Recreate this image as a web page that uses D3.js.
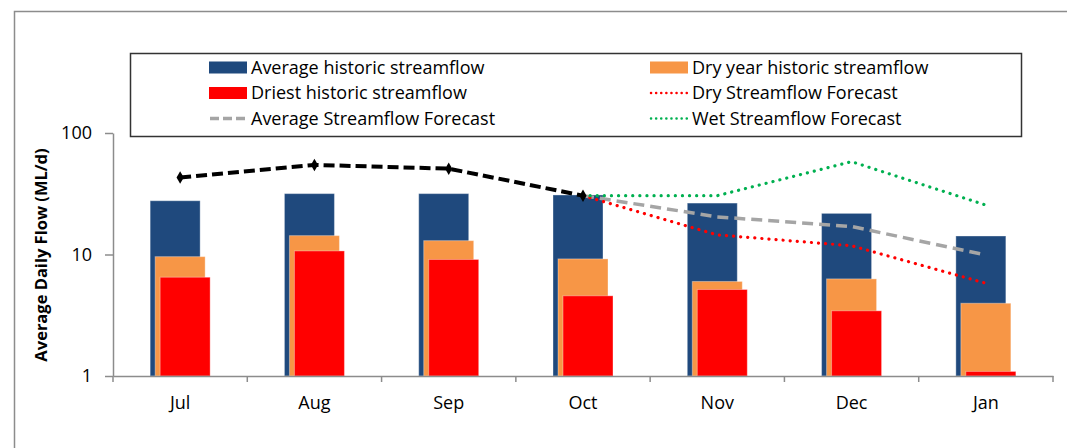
<!DOCTYPE html>
<html lang="en">
<head>
<meta charset="utf-8">
<title>Average Daily Flow</title>
<script src="https://cdn.jsdelivr.net/npm/d3@7"></script>
<style>
  body { margin: 0; background: #fff; }
  svg text { font-family: "Open Sans", sans-serif; fill: #000; }
</style>
</head>
<body>
<script>
// months on the x axis
var months = ["Jul", "Aug", "Sep", "Oct", "Nov", "Dec", "Jan"];

// historic bars (ML/d)
var avgHistoric = [27.7, 31.7, 31.7, 30.9, 26.5, 21.8, 14.2];
var dryHistoric = [9.6, 14.3, 13.0, 9.2, 6.0, 6.3, 3.97];
var driestHistoric = [6.5, 10.7, 9.1, 4.57, 5.15, 3.44, 1.09];

// recorded flow to date (black dashed line)
var recorded = [43.1, 54.6, 50.9, 30.5, null, null, null];

// forecasts, starting at Oct
var dryForecast = [null, null, null, 30.5, 14.5, 11.8, 5.8];
var avgForecast = [null, null, null, 30.5, 20.4, 17.0, 9.9];
var wetForecast = [null, null, null, 30.5, 30.5, 58.1, 25.5];

var yTicks = [1, 10, 100];

var W = 1073, H = 448;
var plotL = 113, plotR = 1053, plotT = 133, plotB = 376;
var fontF = "'Open Sans', sans-serif";

var svg = d3.select("body").append("svg")
    .attr("width", W)
    .attr("height", H);

// outer chart frame (cut off at bottom and right)
svg.append("path")
    .attr("d", "M14.5,448 V11.5 H1067")
    .attr("fill", "none")
    .attr("stroke", "#8c8c8c")
    .attr("stroke-width", 1.5);

var x = d3.scaleBand().domain(months).range([plotL, plotR]);
var y = d3.scaleLog().domain([1, 100]).range([plotB, plotT]);

var barW = 50;
var bars = [
  { data: avgHistoric, color: "#1F497D", off: -5 },
  { data: dryHistoric, color: "#F79646", off: 0 },
  { data: driestHistoric, color: "#FF0000", off: 5 }
];

bars.forEach(function(b) {
  svg.append("g").selectAll("rect")
      .data(b.data)
      .enter()
      .append("rect")
      .attr("x", function(d, i) { return x(months[i]) + x.bandwidth() / 2 + b.off - barW / 2; })
      .attr("width", barW)
      .attr("y", function(d) { return y(d); })
      .attr("height", function(d) { return y(1) - y(d); })
      .attr("fill", b.color)
      .attr("stroke", "#ffffff")
      .attr("stroke-opacity", 0.35)
      .attr("stroke-width", 1);
});

// axes
var yAxis = svg.append("g")
    .attr("transform", "translate(" + plotL + ",0)")
    .call(d3.axisLeft(y).tickValues(yTicks).tickFormat(d3.format("d")).tickSize(8).tickSizeOuter(0));
yAxis.select(".domain").attr("stroke", "#8c8c8c").attr("stroke-width", 1.5);
yAxis.selectAll(".tick line").attr("stroke", "#8c8c8c").attr("stroke-width", 1.5);
yAxis.selectAll(".tick text")
    .attr("x", -21)
    .attr("font-size", 18)
    .attr("font-family", fontF)
    .attr("fill", "#000");

var xAxis = svg.append("g")
    .attr("transform", "translate(0," + plotB + ")")
    .call(d3.axisBottom(x).tickSize(0).tickSizeOuter(0));
xAxis.select(".domain").attr("stroke", "#8c8c8c").attr("stroke-width", 1.5);
xAxis.selectAll(".tick text")
    .attr("y", 20)
    .attr("font-size", 18)
    .attr("font-family", fontF)
    .attr("fill", "#000");

// category boundary ticks
var bounds = months.map(function(m) { return x(m); }).concat([plotR]);
svg.append("g").selectAll("line")
    .data(bounds)
    .enter()
    .append("line")
    .attr("x1", function(d) { return d; })
    .attr("x2", function(d) { return d; })
    .attr("y1", plotB)
    .attr("y2", plotB + 6)
    .attr("stroke", "#8c8c8c")
    .attr("stroke-width", 1.5);

svg.append("text")
    .attr("transform", "translate(47,255) rotate(-90)")
    .attr("text-anchor", "middle")
    .attr("font-family", "Lato, sans-serif")
    .attr("font-size", 16.5)
    .attr("font-weight", "bold")
    .text("Average Daily Flow (ML/d)");

// lines
var cx = function(i) { return x(months[i]) + x.bandwidth() / 2; };
var line = d3.line()
    .defined(function(d) { return d != null; })
    .x(function(d, i) { return cx(i); })
    .y(function(d) { return y(d); });

var lineSeries = [
  { data: avgForecast, color: "#A5A5A5", width: 3.5, dash: "11 6", cap: "butt" },
  { data: dryForecast, color: "#FF0000", width: 3.2, dash: "0.1 7", cap: "round" },
  { data: wetForecast, color: "#00B050", width: 3.2, dash: "0.1 7", cap: "round" },
  { data: recorded, color: "#000000", width: 4, dash: "11 5", cap: "butt" }
];

lineSeries.forEach(function(s) {
  svg.append("path")
      .datum(s.data)
      .attr("d", line)
      .attr("fill", "none")
      .attr("stroke", s.color)
      .attr("stroke-width", s.width)
      .attr("stroke-dasharray", s.dash)
      .attr("stroke-linecap", s.cap);
});

svg.append("g").selectAll("path")
    .data(recorded.map(function(d, i) { return { v: d, i: i }; }).filter(function(d) { return d.v != null; }))
    .enter()
    .append("path")
    .attr("d", d3.symbol().type(d3.symbolDiamond).size(45))
    .attr("transform", function(d) { return "translate(" + cx(d.i) + "," + y(d.v) + ")"; })
    .attr("fill", "#000");

// legend
var legend = svg.append("g");
legend.append("rect")
    .attr("x", 130.5).attr("y", 53.5)
    .attr("width", 891).attr("height", 83)
    .attr("fill", "#fff")
    .attr("stroke", "#333")
    .attr("stroke-width", 1.5);

var legendItems = [
  { label: "Average historic streamflow", kind: "bar", color: "#1F497D", col: 0, row: 0 },
  { label: "Dry year historic streamflow", kind: "bar", color: "#F79646", col: 1, row: 0 },
  { label: "Driest historic streamflow", kind: "bar", color: "#FF0000", col: 0, row: 1 },
  { label: "Dry Streamflow Forecast", kind: "dot", color: "#FF0000", col: 1, row: 1 },
  { label: "Average Streamflow Forecast", kind: "dash", color: "#A5A5A5", col: 0, row: 2 },
  { label: "Wet Streamflow Forecast", kind: "dot", color: "#00B050", col: 1, row: 2 }
];
var colX = [209, 650];
var rowY = [67.5, 93, 118.5];

legendItems.forEach(function(it) {
  var lx = colX[it.col], ly = rowY[it.row];
  if (it.kind == "bar") {
    legend.append("rect")
        .attr("x", lx).attr("y", ly - 6)
        .attr("width", 38).attr("height", 12)
        .attr("fill", it.color);
  } else {
    legend.append("line")
        .attr("x1", lx + 1).attr("x2", lx + 37)
        .attr("y1", ly).attr("y2", ly)
        .attr("stroke", it.color)
        .attr("stroke-width", it.kind == "dash" ? 3.5 : 2.5)
        .attr("stroke-dasharray", it.kind == "dash" ? "9 4" : "0.1 5")
        .attr("stroke-linecap", it.kind == "dash" ? "butt" : "round");
  }
  legend.append("text")
      .attr("x", lx + 42)
      .attr("y", ly)
      .attr("dy", "0.35em")
      .attr("font-size", 18)
      .text(it.label);
});
</script>
</body>
</html>
